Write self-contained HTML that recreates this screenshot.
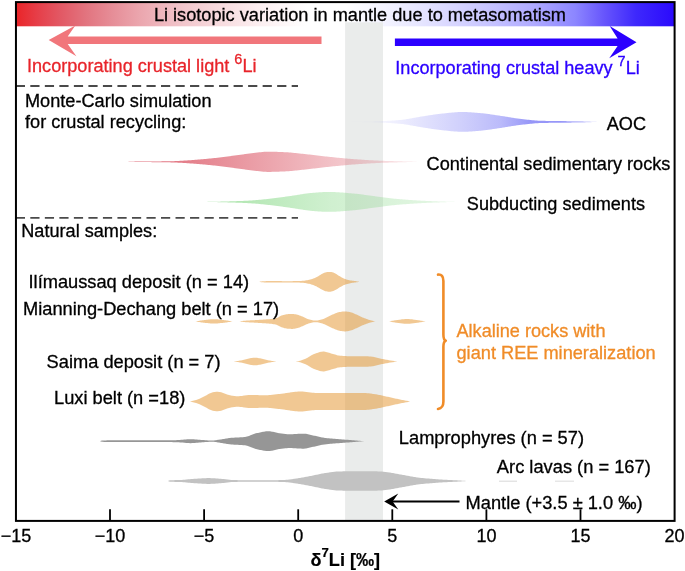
<!DOCTYPE html>
<html><head><meta charset="utf-8"><title>Li isotopic variation</title>
<style>html,body{margin:0;padding:0;background:#fff;}body{width:685px;height:571px;position:relative;overflow:hidden;font-family:"Liberation Sans",sans-serif;}</style>
</head><body>
<svg width="685" height="571" viewBox="0 0 685 571" style="position:absolute;left:0;top:0;will-change:transform;font-family:'Liberation Sans',sans-serif">
<defs>
<linearGradient id="gbar" x1="16" x2="675" y1="0" y2="0" gradientUnits="userSpaceOnUse">
<stop offset="0.0000" stop-color="#ea2428"/><stop offset="0.0319" stop-color="#e63e48"/><stop offset="0.0668" stop-color="#e25864"/><stop offset="0.1062" stop-color="#e2747f"/><stop offset="0.1472" stop-color="#e68e98"/><stop offset="0.1882" stop-color="#eba6ae"/><stop offset="0.2489" stop-color="#f1c4ca"/><stop offset="0.2944" stop-color="#f6d6da"/><stop offset="0.3672" stop-color="#fceef0"/><stop offset="0.4431" stop-color="#ffffff"/><stop offset="0.5008" stop-color="#ffffff"/><stop offset="0.5736" stop-color="#f0f0ff"/><stop offset="0.6206" stop-color="#e4e3ff"/><stop offset="0.6662" stop-color="#d7d5ff"/><stop offset="0.7284" stop-color="#c3c0ff"/><stop offset="0.7860" stop-color="#afaaff"/><stop offset="0.8483" stop-color="#8c86ff"/><stop offset="0.8938" stop-color="#6654fc"/><stop offset="0.9408" stop-color="#3e28fc"/><stop offset="0.9985" stop-color="#2b0afc"/>
</linearGradient>
<linearGradient id="gaoc" x1="370" x2="597" y1="0" y2="0" gradientUnits="userSpaceOnUse">
<stop offset="0" stop-color="#6e6ef5" stop-opacity="0.03"/><stop offset="0.396" stop-color="#6e6ef5" stop-opacity="0.32"/><stop offset="0.573" stop-color="#6e6ef5" stop-opacity="0.47"/><stop offset="0.705" stop-color="#6e6ef5" stop-opacity="0.72"/><stop offset="0.837" stop-color="#6e6ef5" stop-opacity="0.72"/><stop offset="1" stop-color="#6e6ef5" stop-opacity="0.3"/>
</linearGradient>
<linearGradient id="gred" x1="128" x2="420" y1="0" y2="0" gradientUnits="userSpaceOnUse">
<stop offset="0" stop-color="#d94c5c" stop-opacity="0.85"/><stop offset="0.3" stop-color="#d94c5c" stop-opacity="0.64"/><stop offset="1" stop-color="#d94c5c" stop-opacity="0.12"/>
</linearGradient>
<linearGradient id="ggreen" x1="206" x2="456" y1="0" y2="0" gradientUnits="userSpaceOnUse">
<stop offset="0" stop-color="#7fd67f" stop-opacity="0.66"/><stop offset="0.5" stop-color="#7fd67f" stop-opacity="0.37"/><stop offset="1" stop-color="#7fd67f" stop-opacity="0.2"/>
</linearGradient>
</defs>
<rect x="0" y="0" width="685" height="571" fill="#fff"/>
<rect x="16" y="2" width="659" height="24.3" fill="url(#gbar)"/>
<rect x="345.1" y="22.3" width="37.9" height="498.7" fill="#eaeceb"/>
<path d="M350.0,121.90 L351.0,121.88 L352.0,121.87 L353.0,121.85 L354.0,121.83 L355.0,121.81 L356.0,121.79 L357.0,121.78 L358.0,121.75 L359.0,121.73 L360.0,121.71 L361.0,121.69 L362.0,121.67 L363.0,121.65 L364.0,121.62 L365.0,121.60 L366.0,121.58 L367.0,121.55 L368.0,121.53 L369.0,121.50 L370.0,121.48 L371.0,121.45 L372.0,121.43 L373.0,121.40 L374.0,121.37 L375.0,121.35 L376.0,121.32 L377.0,121.29 L378.0,121.26 L379.0,121.22 L380.0,121.19 L381.0,121.16 L382.0,121.12 L383.0,121.08 L384.0,121.04 L385.0,121.00 L386.0,120.96 L387.0,120.91 L388.0,120.86 L389.0,120.80 L390.0,120.75 L391.0,120.69 L392.0,120.62 L393.0,120.56 L394.0,120.49 L395.0,120.41 L396.0,120.33 L397.0,120.25 L398.0,120.17 L399.0,120.08 L400.0,119.99 L401.0,119.90 L402.0,119.80 L403.0,119.68 L404.0,119.56 L405.0,119.42 L406.0,119.27 L407.0,119.11 L408.0,118.95 L409.0,118.78 L410.0,118.60 L411.0,118.42 L412.0,118.24 L413.0,118.05 L414.0,117.87 L415.0,117.68 L416.0,117.50 L417.0,117.31 L418.0,117.13 L419.0,116.96 L420.0,116.79 L421.0,116.62 L422.0,116.47 L423.0,116.32 L424.0,116.16 L425.0,116.00 L426.0,115.84 L427.0,115.68 L428.0,115.53 L429.0,115.37 L430.0,115.21 L431.0,115.06 L432.0,114.90 L433.0,114.75 L434.0,114.61 L435.0,114.46 L436.0,114.32 L437.0,114.19 L438.0,114.06 L439.0,113.93 L440.0,113.82 L441.0,113.70 L442.0,113.60 L443.0,113.50 L444.0,113.39 L445.0,113.29 L446.0,113.18 L447.0,113.07 L448.0,112.97 L449.0,112.86 L450.0,112.76 L451.0,112.66 L452.0,112.57 L453.0,112.48 L454.0,112.39 L455.0,112.31 L456.0,112.24 L457.0,112.18 L458.0,112.12 L459.0,112.08 L460.0,112.04 L461.0,112.02 L462.0,112.00 L463.0,112.00 L464.0,112.01 L465.0,112.03 L466.0,112.06 L467.0,112.10 L468.0,112.15 L469.0,112.20 L470.0,112.26 L471.0,112.33 L472.0,112.40 L473.0,112.47 L474.0,112.55 L475.0,112.64 L476.0,112.72 L477.0,112.81 L478.0,112.89 L479.0,112.98 L480.0,113.07 L481.0,113.15 L482.0,113.25 L483.0,113.35 L484.0,113.46 L485.0,113.58 L486.0,113.70 L487.0,113.83 L488.0,113.97 L489.0,114.11 L490.0,114.25 L491.0,114.40 L492.0,114.55 L493.0,114.70 L494.0,114.85 L495.0,115.01 L496.0,115.16 L497.0,115.32 L498.0,115.47 L499.0,115.62 L500.0,115.77 L501.0,115.91 L502.0,116.06 L503.0,116.21 L504.0,116.37 L505.0,116.53 L506.0,116.69 L507.0,116.85 L508.0,117.02 L509.0,117.19 L510.0,117.35 L511.0,117.52 L512.0,117.68 L513.0,117.84 L514.0,118.00 L515.0,118.15 L516.0,118.30 L517.0,118.45 L518.0,118.59 L519.0,118.72 L520.0,118.85 L521.0,118.97 L522.0,119.08 L523.0,119.19 L524.0,119.31 L525.0,119.42 L526.0,119.53 L527.0,119.65 L528.0,119.76 L529.0,119.87 L530.0,119.97 L531.0,120.08 L532.0,120.17 L533.0,120.27 L534.0,120.36 L535.0,120.44 L536.0,120.52 L537.0,120.59 L538.0,120.65 L539.0,120.70 L540.0,120.75 L541.0,120.78 L542.0,120.81 L543.0,120.83 L544.0,120.85 L545.0,120.87 L546.0,120.88 L547.0,120.90 L548.0,120.91 L549.0,120.93 L550.0,120.94 L551.0,120.95 L552.0,120.96 L553.0,120.97 L554.0,120.98 L555.0,120.99 L556.0,121.00 L557.0,121.01 L558.0,121.03 L559.0,121.04 L560.0,121.05 L561.0,121.06 L562.0,121.07 L563.0,121.09 L564.0,121.10 L565.0,121.11 L566.0,121.12 L567.0,121.13 L568.0,121.14 L569.0,121.15 L570.0,121.16 L571.0,121.17 L572.0,121.18 L573.0,121.20 L574.0,121.21 L575.0,121.22 L576.0,121.23 L577.0,121.25 L578.0,121.27 L579.0,121.28 L580.0,121.30 L581.0,121.32 L582.0,121.34 L583.0,121.37 L584.0,121.39 L585.0,121.42 L586.0,121.46 L587.0,121.49 L588.0,121.52 L589.0,121.56 L590.0,121.60 L591.0,121.64 L592.0,121.68 L593.0,121.72 L594.0,121.77 L595.0,121.81 L596.0,121.85 L597.0,121.90 L597.0,121.90 L596.0,121.95 L595.0,121.99 L594.0,122.03 L593.0,122.08 L592.0,122.12 L591.0,122.16 L590.0,122.20 L589.0,122.24 L588.0,122.28 L587.0,122.31 L586.0,122.34 L585.0,122.38 L584.0,122.41 L583.0,122.43 L582.0,122.46 L581.0,122.48 L580.0,122.50 L579.0,122.52 L578.0,122.53 L577.0,122.55 L576.0,122.57 L575.0,122.58 L574.0,122.59 L573.0,122.60 L572.0,122.62 L571.0,122.63 L570.0,122.64 L569.0,122.65 L568.0,122.66 L567.0,122.67 L566.0,122.68 L565.0,122.69 L564.0,122.70 L563.0,122.71 L562.0,122.73 L561.0,122.74 L560.0,122.75 L559.0,122.76 L558.0,122.77 L557.0,122.79 L556.0,122.80 L555.0,122.81 L554.0,122.82 L553.0,122.83 L552.0,122.84 L551.0,122.85 L550.0,122.86 L549.0,122.87 L548.0,122.89 L547.0,122.90 L546.0,122.92 L545.0,122.93 L544.0,122.95 L543.0,122.97 L542.0,122.99 L541.0,123.02 L540.0,123.05 L539.0,123.10 L538.0,123.15 L537.0,123.21 L536.0,123.28 L535.0,123.36 L534.0,123.44 L533.0,123.53 L532.0,123.63 L531.0,123.72 L530.0,123.83 L529.0,123.93 L528.0,124.04 L527.0,124.15 L526.0,124.27 L525.0,124.38 L524.0,124.49 L523.0,124.61 L522.0,124.72 L521.0,124.83 L520.0,124.95 L519.0,125.08 L518.0,125.21 L517.0,125.35 L516.0,125.50 L515.0,125.65 L514.0,125.80 L513.0,125.96 L512.0,126.12 L511.0,126.28 L510.0,126.45 L509.0,126.61 L508.0,126.78 L507.0,126.95 L506.0,127.11 L505.0,127.27 L504.0,127.43 L503.0,127.59 L502.0,127.74 L501.0,127.89 L500.0,128.03 L499.0,128.18 L498.0,128.33 L497.0,128.48 L496.0,128.64 L495.0,128.79 L494.0,128.95 L493.0,129.10 L492.0,129.25 L491.0,129.40 L490.0,129.55 L489.0,129.69 L488.0,129.83 L487.0,129.97 L486.0,130.10 L485.0,130.22 L484.0,130.34 L483.0,130.45 L482.0,130.55 L481.0,130.65 L480.0,130.73 L479.0,130.82 L478.0,130.91 L477.0,130.99 L476.0,131.08 L475.0,131.16 L474.0,131.25 L473.0,131.33 L472.0,131.40 L471.0,131.47 L470.0,131.54 L469.0,131.60 L468.0,131.65 L467.0,131.70 L466.0,131.74 L465.0,131.77 L464.0,131.79 L463.0,131.80 L462.0,131.80 L461.0,131.78 L460.0,131.76 L459.0,131.72 L458.0,131.68 L457.0,131.62 L456.0,131.56 L455.0,131.49 L454.0,131.41 L453.0,131.32 L452.0,131.23 L451.0,131.14 L450.0,131.04 L449.0,130.94 L448.0,130.83 L447.0,130.73 L446.0,130.62 L445.0,130.51 L444.0,130.41 L443.0,130.30 L442.0,130.20 L441.0,130.10 L440.0,129.98 L439.0,129.87 L438.0,129.74 L437.0,129.61 L436.0,129.48 L435.0,129.34 L434.0,129.19 L433.0,129.05 L432.0,128.90 L431.0,128.74 L430.0,128.59 L429.0,128.43 L428.0,128.27 L427.0,128.12 L426.0,127.96 L425.0,127.80 L424.0,127.64 L423.0,127.48 L422.0,127.33 L421.0,127.18 L420.0,127.01 L419.0,126.84 L418.0,126.67 L417.0,126.49 L416.0,126.30 L415.0,126.12 L414.0,125.93 L413.0,125.75 L412.0,125.56 L411.0,125.38 L410.0,125.20 L409.0,125.02 L408.0,124.85 L407.0,124.69 L406.0,124.53 L405.0,124.38 L404.0,124.24 L403.0,124.12 L402.0,124.00 L401.0,123.90 L400.0,123.81 L399.0,123.72 L398.0,123.63 L397.0,123.55 L396.0,123.47 L395.0,123.39 L394.0,123.31 L393.0,123.24 L392.0,123.18 L391.0,123.11 L390.0,123.05 L389.0,123.00 L388.0,122.94 L387.0,122.89 L386.0,122.84 L385.0,122.80 L384.0,122.76 L383.0,122.72 L382.0,122.68 L381.0,122.64 L380.0,122.61 L379.0,122.58 L378.0,122.54 L377.0,122.51 L376.0,122.48 L375.0,122.45 L374.0,122.43 L373.0,122.40 L372.0,122.37 L371.0,122.35 L370.0,122.32 L369.0,122.30 L368.0,122.27 L367.0,122.25 L366.0,122.22 L365.0,122.20 L364.0,122.18 L363.0,122.15 L362.0,122.13 L361.0,122.11 L360.0,122.09 L359.0,122.07 L358.0,122.05 L357.0,122.02 L356.0,122.01 L355.0,121.99 L354.0,121.97 L353.0,121.95 L352.0,121.93 L351.0,121.92 L350.0,121.90Z" fill="url(#gaoc)"/>
<path d="M125.0,161.80 L126.0,161.78 L127.0,161.76 L128.0,161.74 L129.0,161.72 L130.0,161.70 L131.0,161.68 L132.0,161.66 L133.0,161.64 L134.0,161.63 L135.0,161.61 L136.0,161.60 L137.0,161.58 L138.0,161.57 L139.0,161.56 L140.0,161.55 L141.0,161.54 L142.0,161.53 L143.0,161.53 L144.0,161.52 L145.0,161.51 L146.0,161.51 L147.0,161.50 L148.0,161.50 L149.0,161.49 L150.0,161.49 L151.0,161.48 L152.0,161.47 L153.0,161.47 L154.0,161.46 L155.0,161.45 L156.0,161.44 L157.0,161.43 L158.0,161.42 L159.0,161.41 L160.0,161.40 L161.0,161.39 L162.0,161.37 L163.0,161.36 L164.0,161.35 L165.0,161.33 L166.0,161.32 L167.0,161.30 L168.0,161.28 L169.0,161.26 L170.0,161.24 L171.0,161.22 L172.0,161.20 L173.0,161.17 L174.0,161.14 L175.0,161.11 L176.0,161.07 L177.0,161.02 L178.0,160.97 L179.0,160.92 L180.0,160.86 L181.0,160.80 L182.0,160.74 L183.0,160.68 L184.0,160.62 L185.0,160.55 L186.0,160.48 L187.0,160.42 L188.0,160.35 L189.0,160.29 L190.0,160.22 L191.0,160.15 L192.0,160.08 L193.0,160.01 L194.0,159.93 L195.0,159.86 L196.0,159.78 L197.0,159.70 L198.0,159.61 L199.0,159.53 L200.0,159.44 L201.0,159.36 L202.0,159.27 L203.0,159.18 L204.0,159.09 L205.0,158.99 L206.0,158.90 L207.0,158.80 L208.0,158.71 L209.0,158.61 L210.0,158.51 L211.0,158.41 L212.0,158.31 L213.0,158.21 L214.0,158.10 L215.0,158.00 L216.0,157.89 L217.0,157.78 L218.0,157.67 L219.0,157.56 L220.0,157.44 L221.0,157.32 L222.0,157.19 L223.0,157.07 L224.0,156.94 L225.0,156.81 L226.0,156.68 L227.0,156.54 L228.0,156.41 L229.0,156.27 L230.0,156.14 L231.0,156.00 L232.0,155.87 L233.0,155.73 L234.0,155.59 L235.0,155.46 L236.0,155.32 L237.0,155.18 L238.0,155.05 L239.0,154.92 L240.0,154.78 L241.0,154.65 L242.0,154.52 L243.0,154.39 L244.0,154.25 L245.0,154.11 L246.0,153.97 L247.0,153.83 L248.0,153.69 L249.0,153.56 L250.0,153.42 L251.0,153.29 L252.0,153.16 L253.0,153.04 L254.0,152.92 L255.0,152.80 L256.0,152.70 L257.0,152.60 L258.0,152.49 L259.0,152.37 L260.0,152.26 L261.0,152.15 L262.0,152.05 L263.0,151.95 L264.0,151.87 L265.0,151.80 L266.0,151.75 L267.0,151.71 L268.0,151.70 L269.0,151.70 L270.0,151.71 L271.0,151.72 L272.0,151.74 L273.0,151.76 L274.0,151.78 L275.0,151.81 L276.0,151.84 L277.0,151.87 L278.0,151.91 L279.0,151.95 L280.0,151.99 L281.0,152.03 L282.0,152.07 L283.0,152.11 L284.0,152.16 L285.0,152.20 L286.0,152.25 L287.0,152.31 L288.0,152.37 L289.0,152.45 L290.0,152.53 L291.0,152.61 L292.0,152.71 L293.0,152.80 L294.0,152.90 L295.0,153.01 L296.0,153.11 L297.0,153.22 L298.0,153.32 L299.0,153.43 L300.0,153.54 L301.0,153.65 L302.0,153.75 L303.0,153.85 L304.0,153.95 L305.0,154.06 L306.0,154.17 L307.0,154.28 L308.0,154.39 L309.0,154.51 L310.0,154.62 L311.0,154.74 L312.0,154.86 L313.0,154.98 L314.0,155.10 L315.0,155.22 L316.0,155.34 L317.0,155.46 L318.0,155.58 L319.0,155.70 L320.0,155.82 L321.0,155.94 L322.0,156.05 L323.0,156.17 L324.0,156.28 L325.0,156.39 L326.0,156.50 L327.0,156.61 L328.0,156.72 L329.0,156.82 L330.0,156.92 L331.0,157.02 L332.0,157.12 L333.0,157.23 L334.0,157.33 L335.0,157.43 L336.0,157.53 L337.0,157.63 L338.0,157.72 L339.0,157.82 L340.0,157.92 L341.0,158.01 L342.0,158.11 L343.0,158.20 L344.0,158.29 L345.0,158.38 L346.0,158.47 L347.0,158.56 L348.0,158.65 L349.0,158.73 L350.0,158.82 L351.0,158.90 L352.0,158.98 L353.0,159.05 L354.0,159.13 L355.0,159.20 L356.0,159.27 L357.0,159.34 L358.0,159.41 L359.0,159.48 L360.0,159.55 L361.0,159.62 L362.0,159.69 L363.0,159.75 L364.0,159.82 L365.0,159.88 L366.0,159.95 L367.0,160.01 L368.0,160.07 L369.0,160.13 L370.0,160.19 L371.0,160.25 L372.0,160.30 L373.0,160.36 L374.0,160.41 L375.0,160.46 L376.0,160.51 L377.0,160.56 L378.0,160.61 L379.0,160.65 L380.0,160.69 L381.0,160.73 L382.0,160.77 L383.0,160.81 L384.0,160.85 L385.0,160.88 L386.0,160.91 L387.0,160.94 L388.0,160.97 L389.0,161.00 L390.0,161.03 L391.0,161.06 L392.0,161.09 L393.0,161.11 L394.0,161.14 L395.0,161.17 L396.0,161.19 L397.0,161.22 L398.0,161.25 L399.0,161.27 L400.0,161.30 L401.0,161.33 L402.0,161.35 L403.0,161.38 L404.0,161.41 L405.0,161.43 L406.0,161.46 L407.0,161.49 L408.0,161.51 L409.0,161.54 L410.0,161.56 L411.0,161.59 L412.0,161.61 L413.0,161.64 L414.0,161.66 L415.0,161.68 L416.0,161.71 L417.0,161.73 L418.0,161.75 L419.0,161.78 L420.0,161.80 L420.0,161.80 L419.0,161.82 L418.0,161.85 L417.0,161.87 L416.0,161.89 L415.0,161.92 L414.0,161.94 L413.0,161.96 L412.0,161.99 L411.0,162.01 L410.0,162.04 L409.0,162.06 L408.0,162.09 L407.0,162.11 L406.0,162.14 L405.0,162.17 L404.0,162.19 L403.0,162.22 L402.0,162.25 L401.0,162.27 L400.0,162.30 L399.0,162.33 L398.0,162.35 L397.0,162.38 L396.0,162.41 L395.0,162.43 L394.0,162.46 L393.0,162.49 L392.0,162.51 L391.0,162.54 L390.0,162.57 L389.0,162.60 L388.0,162.63 L387.0,162.66 L386.0,162.69 L385.0,162.72 L384.0,162.75 L383.0,162.79 L382.0,162.83 L381.0,162.87 L380.0,162.91 L379.0,162.95 L378.0,162.99 L377.0,163.04 L376.0,163.09 L375.0,163.14 L374.0,163.19 L373.0,163.24 L372.0,163.30 L371.0,163.35 L370.0,163.41 L369.0,163.47 L368.0,163.53 L367.0,163.59 L366.0,163.65 L365.0,163.72 L364.0,163.78 L363.0,163.85 L362.0,163.91 L361.0,163.98 L360.0,164.05 L359.0,164.12 L358.0,164.19 L357.0,164.26 L356.0,164.33 L355.0,164.40 L354.0,164.47 L353.0,164.55 L352.0,164.62 L351.0,164.70 L350.0,164.78 L349.0,164.87 L348.0,164.95 L347.0,165.04 L346.0,165.13 L345.0,165.22 L344.0,165.31 L343.0,165.40 L342.0,165.49 L341.0,165.59 L340.0,165.68 L339.0,165.78 L338.0,165.88 L337.0,165.97 L336.0,166.07 L335.0,166.17 L334.0,166.27 L333.0,166.37 L332.0,166.48 L331.0,166.58 L330.0,166.68 L329.0,166.78 L328.0,166.88 L327.0,166.99 L326.0,167.10 L325.0,167.21 L324.0,167.32 L323.0,167.43 L322.0,167.55 L321.0,167.66 L320.0,167.78 L319.0,167.90 L318.0,168.02 L317.0,168.14 L316.0,168.26 L315.0,168.38 L314.0,168.50 L313.0,168.62 L312.0,168.74 L311.0,168.86 L310.0,168.98 L309.0,169.09 L308.0,169.21 L307.0,169.32 L306.0,169.43 L305.0,169.54 L304.0,169.65 L303.0,169.75 L302.0,169.85 L301.0,169.95 L300.0,170.06 L299.0,170.17 L298.0,170.28 L297.0,170.38 L296.0,170.49 L295.0,170.59 L294.0,170.70 L293.0,170.80 L292.0,170.89 L291.0,170.99 L290.0,171.07 L289.0,171.15 L288.0,171.23 L287.0,171.29 L286.0,171.35 L285.0,171.40 L284.0,171.44 L283.0,171.49 L282.0,171.53 L281.0,171.57 L280.0,171.61 L279.0,171.65 L278.0,171.69 L277.0,171.73 L276.0,171.76 L275.0,171.79 L274.0,171.82 L273.0,171.84 L272.0,171.86 L271.0,171.88 L270.0,171.89 L269.0,171.90 L268.0,171.90 L267.0,171.89 L266.0,171.85 L265.0,171.80 L264.0,171.73 L263.0,171.65 L262.0,171.55 L261.0,171.45 L260.0,171.34 L259.0,171.23 L258.0,171.11 L257.0,171.00 L256.0,170.90 L255.0,170.80 L254.0,170.68 L253.0,170.56 L252.0,170.44 L251.0,170.31 L250.0,170.18 L249.0,170.04 L248.0,169.91 L247.0,169.77 L246.0,169.63 L245.0,169.49 L244.0,169.35 L243.0,169.21 L242.0,169.08 L241.0,168.95 L240.0,168.82 L239.0,168.68 L238.0,168.55 L237.0,168.42 L236.0,168.28 L235.0,168.14 L234.0,168.01 L233.0,167.87 L232.0,167.73 L231.0,167.60 L230.0,167.46 L229.0,167.33 L228.0,167.19 L227.0,167.06 L226.0,166.92 L225.0,166.79 L224.0,166.66 L223.0,166.53 L222.0,166.41 L221.0,166.28 L220.0,166.16 L219.0,166.04 L218.0,165.93 L217.0,165.82 L216.0,165.71 L215.0,165.60 L214.0,165.50 L213.0,165.39 L212.0,165.29 L211.0,165.19 L210.0,165.09 L209.0,164.99 L208.0,164.89 L207.0,164.80 L206.0,164.70 L205.0,164.61 L204.0,164.51 L203.0,164.42 L202.0,164.33 L201.0,164.24 L200.0,164.16 L199.0,164.07 L198.0,163.99 L197.0,163.90 L196.0,163.82 L195.0,163.74 L194.0,163.67 L193.0,163.59 L192.0,163.52 L191.0,163.45 L190.0,163.38 L189.0,163.31 L188.0,163.25 L187.0,163.18 L186.0,163.12 L185.0,163.05 L184.0,162.98 L183.0,162.92 L182.0,162.86 L181.0,162.80 L180.0,162.74 L179.0,162.68 L178.0,162.63 L177.0,162.58 L176.0,162.53 L175.0,162.49 L174.0,162.46 L173.0,162.43 L172.0,162.40 L171.0,162.38 L170.0,162.36 L169.0,162.34 L168.0,162.32 L167.0,162.30 L166.0,162.28 L165.0,162.27 L164.0,162.25 L163.0,162.24 L162.0,162.23 L161.0,162.21 L160.0,162.20 L159.0,162.19 L158.0,162.18 L157.0,162.17 L156.0,162.16 L155.0,162.15 L154.0,162.14 L153.0,162.13 L152.0,162.13 L151.0,162.12 L150.0,162.11 L149.0,162.11 L148.0,162.10 L147.0,162.10 L146.0,162.09 L145.0,162.09 L144.0,162.08 L143.0,162.07 L142.0,162.07 L141.0,162.06 L140.0,162.05 L139.0,162.04 L138.0,162.03 L137.0,162.02 L136.0,162.00 L135.0,161.99 L134.0,161.97 L133.0,161.96 L132.0,161.94 L131.0,161.92 L130.0,161.90 L129.0,161.88 L128.0,161.86 L127.0,161.84 L126.0,161.82 L125.0,161.80Z" fill="url(#gred)"/>
<path d="M206.0,201.90 L207.0,201.89 L208.0,201.87 L209.0,201.86 L210.0,201.84 L211.0,201.82 L212.0,201.80 L213.0,201.78 L214.0,201.76 L215.0,201.74 L216.0,201.72 L217.0,201.70 L218.0,201.67 L219.0,201.65 L220.0,201.63 L221.0,201.60 L222.0,201.57 L223.0,201.55 L224.0,201.52 L225.0,201.49 L226.0,201.47 L227.0,201.44 L228.0,201.41 L229.0,201.38 L230.0,201.35 L231.0,201.32 L232.0,201.29 L233.0,201.26 L234.0,201.23 L235.0,201.19 L236.0,201.16 L237.0,201.12 L238.0,201.09 L239.0,201.05 L240.0,201.01 L241.0,200.97 L242.0,200.93 L243.0,200.89 L244.0,200.84 L245.0,200.80 L246.0,200.75 L247.0,200.70 L248.0,200.65 L249.0,200.60 L250.0,200.54 L251.0,200.48 L252.0,200.42 L253.0,200.35 L254.0,200.27 L255.0,200.20 L256.0,200.11 L257.0,200.03 L258.0,199.94 L259.0,199.85 L260.0,199.75 L261.0,199.65 L262.0,199.55 L263.0,199.45 L264.0,199.35 L265.0,199.24 L266.0,199.13 L267.0,199.02 L268.0,198.91 L269.0,198.80 L270.0,198.69 L271.0,198.58 L272.0,198.47 L273.0,198.35 L274.0,198.24 L275.0,198.11 L276.0,197.99 L277.0,197.86 L278.0,197.73 L279.0,197.59 L280.0,197.46 L281.0,197.32 L282.0,197.18 L283.0,197.04 L284.0,196.90 L285.0,196.75 L286.0,196.61 L287.0,196.47 L288.0,196.32 L289.0,196.18 L290.0,196.04 L291.0,195.90 L292.0,195.76 L293.0,195.62 L294.0,195.47 L295.0,195.32 L296.0,195.16 L297.0,195.00 L298.0,194.84 L299.0,194.67 L300.0,194.51 L301.0,194.34 L302.0,194.18 L303.0,194.02 L304.0,193.87 L305.0,193.72 L306.0,193.57 L307.0,193.43 L308.0,193.30 L309.0,193.18 L310.0,193.07 L311.0,192.97 L312.0,192.88 L313.0,192.80 L314.0,192.72 L315.0,192.65 L316.0,192.57 L317.0,192.50 L318.0,192.42 L319.0,192.36 L320.0,192.29 L321.0,192.23 L322.0,192.17 L323.0,192.12 L324.0,192.07 L325.0,192.03 L326.0,192.00 L327.0,191.98 L328.0,191.96 L329.0,191.96 L330.0,191.96 L331.0,191.98 L332.0,192.00 L333.0,192.02 L334.0,192.06 L335.0,192.10 L336.0,192.15 L337.0,192.20 L338.0,192.26 L339.0,192.32 L340.0,192.39 L341.0,192.46 L342.0,192.53 L343.0,192.61 L344.0,192.69 L345.0,192.78 L346.0,192.86 L347.0,192.95 L348.0,193.04 L349.0,193.13 L350.0,193.21 L351.0,193.30 L352.0,193.39 L353.0,193.48 L354.0,193.56 L355.0,193.66 L356.0,193.76 L357.0,193.86 L358.0,193.98 L359.0,194.09 L360.0,194.22 L361.0,194.34 L362.0,194.47 L363.0,194.61 L364.0,194.74 L365.0,194.88 L366.0,195.02 L367.0,195.16 L368.0,195.30 L369.0,195.44 L370.0,195.58 L371.0,195.72 L372.0,195.86 L373.0,195.99 L374.0,196.12 L375.0,196.25 L376.0,196.38 L377.0,196.51 L378.0,196.64 L379.0,196.77 L380.0,196.90 L381.0,197.04 L382.0,197.17 L383.0,197.31 L384.0,197.44 L385.0,197.57 L386.0,197.70 L387.0,197.83 L388.0,197.96 L389.0,198.08 L390.0,198.20 L391.0,198.32 L392.0,198.43 L393.0,198.54 L394.0,198.64 L395.0,198.74 L396.0,198.83 L397.0,198.93 L398.0,199.02 L399.0,199.11 L400.0,199.19 L401.0,199.28 L402.0,199.36 L403.0,199.44 L404.0,199.52 L405.0,199.59 L406.0,199.67 L407.0,199.74 L408.0,199.81 L409.0,199.88 L410.0,199.95 L411.0,200.02 L412.0,200.08 L413.0,200.15 L414.0,200.21 L415.0,200.28 L416.0,200.34 L417.0,200.40 L418.0,200.46 L419.0,200.52 L420.0,200.58 L421.0,200.63 L422.0,200.69 L423.0,200.74 L424.0,200.79 L425.0,200.84 L426.0,200.89 L427.0,200.93 L428.0,200.97 L429.0,201.02 L430.0,201.06 L431.0,201.10 L432.0,201.14 L433.0,201.18 L434.0,201.22 L435.0,201.26 L436.0,201.30 L437.0,201.34 L438.0,201.38 L439.0,201.42 L440.0,201.45 L441.0,201.49 L442.0,201.52 L443.0,201.56 L444.0,201.59 L445.0,201.62 L446.0,201.65 L447.0,201.68 L448.0,201.71 L449.0,201.74 L450.0,201.77 L451.0,201.79 L452.0,201.82 L453.0,201.84 L454.0,201.86 L455.0,201.88 L456.0,201.90 L456.0,201.90 L455.0,201.92 L454.0,201.94 L453.0,201.96 L452.0,201.98 L451.0,202.01 L450.0,202.03 L449.0,202.06 L448.0,202.09 L447.0,202.12 L446.0,202.15 L445.0,202.18 L444.0,202.21 L443.0,202.24 L442.0,202.28 L441.0,202.31 L440.0,202.35 L439.0,202.38 L438.0,202.42 L437.0,202.46 L436.0,202.50 L435.0,202.54 L434.0,202.58 L433.0,202.62 L432.0,202.66 L431.0,202.70 L430.0,202.74 L429.0,202.78 L428.0,202.83 L427.0,202.87 L426.0,202.91 L425.0,202.96 L424.0,203.01 L423.0,203.06 L422.0,203.11 L421.0,203.17 L420.0,203.22 L419.0,203.28 L418.0,203.34 L417.0,203.40 L416.0,203.46 L415.0,203.52 L414.0,203.59 L413.0,203.65 L412.0,203.72 L411.0,203.78 L410.0,203.85 L409.0,203.92 L408.0,203.99 L407.0,204.06 L406.0,204.13 L405.0,204.21 L404.0,204.28 L403.0,204.36 L402.0,204.44 L401.0,204.52 L400.0,204.61 L399.0,204.69 L398.0,204.78 L397.0,204.87 L396.0,204.97 L395.0,205.06 L394.0,205.16 L393.0,205.26 L392.0,205.37 L391.0,205.48 L390.0,205.60 L389.0,205.72 L388.0,205.84 L387.0,205.97 L386.0,206.10 L385.0,206.23 L384.0,206.36 L383.0,206.49 L382.0,206.63 L381.0,206.76 L380.0,206.90 L379.0,207.03 L378.0,207.16 L377.0,207.29 L376.0,207.42 L375.0,207.55 L374.0,207.68 L373.0,207.81 L372.0,207.94 L371.0,208.08 L370.0,208.22 L369.0,208.36 L368.0,208.50 L367.0,208.64 L366.0,208.78 L365.0,208.92 L364.0,209.06 L363.0,209.19 L362.0,209.33 L361.0,209.46 L360.0,209.58 L359.0,209.71 L358.0,209.82 L357.0,209.94 L356.0,210.04 L355.0,210.14 L354.0,210.24 L353.0,210.32 L352.0,210.41 L351.0,210.50 L350.0,210.59 L349.0,210.67 L348.0,210.76 L347.0,210.85 L346.0,210.94 L345.0,211.02 L344.0,211.11 L343.0,211.19 L342.0,211.27 L341.0,211.34 L340.0,211.41 L339.0,211.48 L338.0,211.54 L337.0,211.60 L336.0,211.65 L335.0,211.70 L334.0,211.74 L333.0,211.78 L332.0,211.80 L331.0,211.82 L330.0,211.84 L329.0,211.84 L328.0,211.84 L327.0,211.82 L326.0,211.80 L325.0,211.77 L324.0,211.73 L323.0,211.68 L322.0,211.63 L321.0,211.57 L320.0,211.51 L319.0,211.44 L318.0,211.38 L317.0,211.30 L316.0,211.23 L315.0,211.15 L314.0,211.08 L313.0,211.00 L312.0,210.92 L311.0,210.83 L310.0,210.73 L309.0,210.62 L308.0,210.50 L307.0,210.37 L306.0,210.23 L305.0,210.08 L304.0,209.93 L303.0,209.78 L302.0,209.62 L301.0,209.46 L300.0,209.29 L299.0,209.13 L298.0,208.96 L297.0,208.80 L296.0,208.64 L295.0,208.48 L294.0,208.33 L293.0,208.18 L292.0,208.04 L291.0,207.90 L290.0,207.76 L289.0,207.62 L288.0,207.48 L287.0,207.33 L286.0,207.19 L285.0,207.05 L284.0,206.90 L283.0,206.76 L282.0,206.62 L281.0,206.48 L280.0,206.34 L279.0,206.21 L278.0,206.07 L277.0,205.94 L276.0,205.81 L275.0,205.69 L274.0,205.56 L273.0,205.45 L272.0,205.33 L271.0,205.22 L270.0,205.11 L269.0,205.00 L268.0,204.89 L267.0,204.78 L266.0,204.67 L265.0,204.56 L264.0,204.45 L263.0,204.35 L262.0,204.25 L261.0,204.15 L260.0,204.05 L259.0,203.95 L258.0,203.86 L257.0,203.77 L256.0,203.69 L255.0,203.60 L254.0,203.53 L253.0,203.45 L252.0,203.38 L251.0,203.32 L250.0,203.26 L249.0,203.20 L248.0,203.15 L247.0,203.10 L246.0,203.05 L245.0,203.00 L244.0,202.96 L243.0,202.91 L242.0,202.87 L241.0,202.83 L240.0,202.79 L239.0,202.75 L238.0,202.71 L237.0,202.68 L236.0,202.64 L235.0,202.61 L234.0,202.57 L233.0,202.54 L232.0,202.51 L231.0,202.48 L230.0,202.45 L229.0,202.42 L228.0,202.39 L227.0,202.36 L226.0,202.33 L225.0,202.31 L224.0,202.28 L223.0,202.25 L222.0,202.23 L221.0,202.20 L220.0,202.17 L219.0,202.15 L218.0,202.13 L217.0,202.10 L216.0,202.08 L215.0,202.06 L214.0,202.04 L213.0,202.02 L212.0,202.00 L211.0,201.98 L210.0,201.96 L209.0,201.94 L208.0,201.93 L207.0,201.91 L206.0,201.90Z" fill="url(#ggreen)"/>
<path d="M259.3,281.80 L260.3,281.61 L261.3,281.44 L262.3,281.31 L263.3,281.23 L264.3,281.19 L265.3,281.14 L266.3,281.11 L267.3,281.07 L268.3,281.05 L269.3,281.02 L270.3,281.01 L271.3,281.00 L272.3,281.00 L273.3,281.00 L274.3,281.01 L275.3,281.02 L276.3,281.04 L277.3,281.05 L278.3,281.07 L279.3,281.09 L280.3,281.11 L281.3,281.12 L282.3,281.13 L283.3,281.14 L284.3,281.15 L285.3,281.15 L286.3,281.15 L287.3,281.15 L288.3,281.15 L289.3,281.14 L290.3,281.14 L291.3,281.13 L292.3,281.13 L293.3,281.12 L294.3,281.11 L295.3,281.11 L296.3,281.10 L297.3,281.08 L298.3,281.05 L299.3,281.01 L300.3,280.96 L301.3,280.91 L302.3,280.85 L303.3,280.78 L304.3,280.68 L305.3,280.54 L306.3,280.37 L307.3,280.18 L308.3,279.96 L309.3,279.73 L310.3,279.48 L311.3,279.22 L312.3,278.91 L313.3,278.55 L314.3,278.15 L315.3,277.72 L316.3,277.26 L317.3,276.72 L318.3,276.13 L319.3,275.54 L320.3,274.93 L321.3,274.30 L322.3,273.75 L323.3,273.27 L324.3,272.82 L325.3,272.47 L326.3,272.25 L327.3,272.05 L328.3,271.92 L329.3,271.91 L330.3,271.97 L331.3,272.10 L332.3,272.26 L333.3,272.57 L334.3,273.01 L335.3,273.50 L336.3,274.06 L337.3,274.72 L338.3,275.38 L339.3,275.99 L340.3,276.60 L341.3,277.18 L342.3,277.72 L343.3,278.24 L344.3,278.72 L345.3,279.11 L346.3,279.44 L347.3,279.72 L348.3,279.97 L349.3,280.20 L350.3,280.41 L351.3,280.58 L352.3,280.73 L353.3,280.86 L354.3,280.98 L355.3,281.10 L356.3,281.24 L357.3,281.40 L358.3,281.57 L359.3,281.75 L359.6,281.80 L359.6,281.80 L359.3,281.85 L358.3,282.03 L357.3,282.20 L356.3,282.36 L355.3,282.50 L354.3,282.62 L353.3,282.74 L352.3,282.87 L351.3,283.02 L350.3,283.19 L349.3,283.40 L348.3,283.63 L347.3,283.88 L346.3,284.16 L345.3,284.49 L344.3,284.88 L343.3,285.36 L342.3,285.88 L341.3,286.42 L340.3,287.00 L339.3,287.61 L338.3,288.22 L337.3,288.88 L336.3,289.54 L335.3,290.10 L334.3,290.59 L333.3,291.03 L332.3,291.34 L331.3,291.50 L330.3,291.63 L329.3,291.69 L328.3,291.68 L327.3,291.55 L326.3,291.35 L325.3,291.13 L324.3,290.78 L323.3,290.33 L322.3,289.85 L321.3,289.30 L320.3,288.67 L319.3,288.06 L318.3,287.47 L317.3,286.88 L316.3,286.34 L315.3,285.88 L314.3,285.45 L313.3,285.05 L312.3,284.69 L311.3,284.38 L310.3,284.12 L309.3,283.87 L308.3,283.64 L307.3,283.42 L306.3,283.23 L305.3,283.06 L304.3,282.92 L303.3,282.82 L302.3,282.75 L301.3,282.69 L300.3,282.64 L299.3,282.59 L298.3,282.55 L297.3,282.52 L296.3,282.50 L295.3,282.49 L294.3,282.49 L293.3,282.48 L292.3,282.47 L291.3,282.47 L290.3,282.46 L289.3,282.46 L288.3,282.45 L287.3,282.45 L286.3,282.45 L285.3,282.45 L284.3,282.45 L283.3,282.46 L282.3,282.47 L281.3,282.48 L280.3,282.49 L279.3,282.51 L278.3,282.53 L277.3,282.55 L276.3,282.56 L275.3,282.58 L274.3,282.59 L273.3,282.60 L272.3,282.60 L271.3,282.60 L270.3,282.59 L269.3,282.58 L268.3,282.55 L267.3,282.53 L266.3,282.49 L265.3,282.46 L264.3,282.41 L263.3,282.37 L262.3,282.29 L261.3,282.16 L260.3,281.99 L259.3,281.80Z" fill="rgba(228,146,40,0.5)"/>
<path d="M195.5,321.40 L196.5,321.22 L197.5,321.05 L198.5,320.88 L199.5,320.72 L200.5,320.56 L201.5,320.42 L202.5,320.28 L203.5,320.16 L204.5,320.04 L205.5,319.92 L206.5,319.80 L207.5,319.68 L208.5,319.56 L209.5,319.46 L210.5,319.36 L211.5,319.29 L212.5,319.23 L213.5,319.20 L214.5,319.20 L215.5,319.23 L216.5,319.29 L217.5,319.36 L218.5,319.46 L219.5,319.56 L220.5,319.68 L221.5,319.80 L222.5,319.92 L223.5,320.04 L224.5,320.16 L225.5,320.28 L226.5,320.42 L227.5,320.56 L228.5,320.72 L229.5,320.88 L230.5,321.05 L231.5,321.22 L232.5,321.40 L232.5,321.40 L231.5,321.58 L230.5,321.75 L229.5,321.92 L228.5,322.08 L227.5,322.24 L226.5,322.38 L225.5,322.52 L224.5,322.64 L223.5,322.76 L222.5,322.88 L221.5,323.00 L220.5,323.12 L219.5,323.24 L218.5,323.34 L217.5,323.44 L216.5,323.51 L215.5,323.57 L214.5,323.60 L213.5,323.60 L212.5,323.57 L211.5,323.51 L210.5,323.44 L209.5,323.34 L208.5,323.24 L207.5,323.12 L206.5,323.00 L205.5,322.88 L204.5,322.76 L203.5,322.64 L202.5,322.52 L201.5,322.38 L200.5,322.24 L199.5,322.08 L198.5,321.92 L197.5,321.75 L196.5,321.58 L195.5,321.40Z" fill="rgba(228,146,40,0.5)"/>
<path d="M239.5,321.40 L240.5,321.25 L241.5,321.11 L242.5,320.97 L243.5,320.85 L244.5,320.74 L245.5,320.64 L246.5,320.56 L247.5,320.49 L248.5,320.43 L249.5,320.38 L250.5,320.33 L251.5,320.28 L252.5,320.23 L253.5,320.18 L254.5,320.13 L255.5,320.07 L256.5,320.01 L257.5,319.95 L258.5,319.89 L259.5,319.83 L260.5,319.77 L261.5,319.70 L262.5,319.63 L263.5,319.57 L264.5,319.50 L265.5,319.43 L266.5,319.37 L267.5,319.30 L268.5,319.22 L269.5,319.14 L270.5,319.04 L271.5,318.94 L272.5,318.81 L273.5,318.64 L274.5,318.44 L275.5,318.21 L276.5,317.94 L277.5,317.63 L278.5,317.17 L279.5,316.62 L280.5,316.06 L281.5,315.58 L282.5,315.24 L283.5,314.94 L284.5,314.66 L285.5,314.43 L286.5,314.26 L287.5,314.15 L288.5,314.06 L289.5,313.99 L290.5,313.93 L291.5,313.90 L292.5,313.91 L293.5,313.99 L294.5,314.13 L295.5,314.31 L296.5,314.50 L297.5,314.71 L298.5,315.01 L299.5,315.38 L300.5,315.79 L301.5,316.20 L302.5,316.60 L303.5,317.05 L304.5,317.53 L305.5,318.01 L306.5,318.48 L307.5,318.90 L308.5,319.26 L309.5,319.53 L310.5,319.79 L311.5,320.05 L312.5,320.27 L313.5,320.45 L314.5,320.56 L315.5,320.60 L316.5,320.55 L317.5,320.43 L318.5,320.25 L319.5,320.03 L320.5,319.79 L321.5,319.53 L322.5,319.26 L323.5,318.90 L324.5,318.48 L325.5,318.01 L326.5,317.52 L327.5,317.03 L328.5,316.57 L329.5,316.08 L330.5,315.58 L331.5,315.08 L332.5,314.62 L333.5,314.19 L334.5,313.76 L335.5,313.34 L336.5,312.94 L337.5,312.59 L338.5,312.31 L339.5,312.10 L340.5,311.91 L341.5,311.73 L342.5,311.58 L343.5,311.47 L344.5,311.41 L345.5,311.41 L346.5,311.49 L347.5,311.63 L348.5,311.82 L349.5,312.04 L350.5,312.28 L351.5,312.53 L352.5,312.87 L353.5,313.28 L354.5,313.72 L355.5,314.18 L356.5,314.62 L357.5,315.10 L358.5,315.60 L359.5,316.10 L360.5,316.58 L361.5,317.01 L362.5,317.43 L363.5,317.82 L364.5,318.21 L365.5,318.59 L366.5,318.98 L367.5,319.37 L368.5,319.73 L369.5,320.06 L370.5,320.33 L371.5,320.59 L372.5,320.83 L373.5,321.05 L374.5,321.24 L375.5,321.40 L375.5,321.40 L374.5,321.56 L373.5,321.75 L372.5,321.97 L371.5,322.21 L370.5,322.47 L369.5,322.74 L368.5,323.07 L367.5,323.43 L366.5,323.82 L365.5,324.21 L364.5,324.59 L363.5,324.98 L362.5,325.37 L361.5,325.79 L360.5,326.22 L359.5,326.70 L358.5,327.20 L357.5,327.70 L356.5,328.18 L355.5,328.62 L354.5,329.08 L353.5,329.52 L352.5,329.93 L351.5,330.27 L350.5,330.52 L349.5,330.76 L348.5,330.98 L347.5,331.17 L346.5,331.31 L345.5,331.39 L344.5,331.39 L343.5,331.33 L342.5,331.22 L341.5,331.07 L340.5,330.89 L339.5,330.70 L338.5,330.49 L337.5,330.21 L336.5,329.86 L335.5,329.46 L334.5,329.04 L333.5,328.61 L332.5,328.18 L331.5,327.72 L330.5,327.22 L329.5,326.72 L328.5,326.23 L327.5,325.77 L326.5,325.28 L325.5,324.79 L324.5,324.32 L323.5,323.90 L322.5,323.54 L321.5,323.27 L320.5,323.01 L319.5,322.77 L318.5,322.55 L317.5,322.37 L316.5,322.25 L315.5,322.20 L314.5,322.24 L313.5,322.35 L312.5,322.53 L311.5,322.75 L310.5,323.01 L309.5,323.27 L308.5,323.54 L307.5,323.90 L306.5,324.32 L305.5,324.79 L304.5,325.27 L303.5,325.75 L302.5,326.20 L301.5,326.60 L300.5,327.01 L299.5,327.42 L298.5,327.79 L297.5,328.09 L296.5,328.30 L295.5,328.49 L294.5,328.67 L293.5,328.81 L292.5,328.89 L291.5,328.90 L290.5,328.87 L289.5,328.81 L288.5,328.74 L287.5,328.65 L286.5,328.54 L285.5,328.37 L284.5,328.14 L283.5,327.86 L282.5,327.56 L281.5,327.22 L280.5,326.74 L279.5,326.18 L278.5,325.63 L277.5,325.17 L276.5,324.86 L275.5,324.59 L274.5,324.36 L273.5,324.16 L272.5,323.99 L271.5,323.86 L270.5,323.76 L269.5,323.66 L268.5,323.58 L267.5,323.50 L266.5,323.43 L265.5,323.37 L264.5,323.30 L263.5,323.23 L262.5,323.17 L261.5,323.10 L260.5,323.03 L259.5,322.97 L258.5,322.91 L257.5,322.85 L256.5,322.79 L255.5,322.73 L254.5,322.67 L253.5,322.62 L252.5,322.57 L251.5,322.52 L250.5,322.47 L249.5,322.42 L248.5,322.37 L247.5,322.31 L246.5,322.24 L245.5,322.16 L244.5,322.06 L243.5,321.95 L242.5,321.83 L241.5,321.69 L240.5,321.55 L239.5,321.40Z" fill="rgba(228,146,40,0.5)"/>
<path d="M389.0,321.40 L390.0,321.20 L391.0,321.01 L392.0,320.83 L393.0,320.65 L394.0,320.48 L395.0,320.32 L396.0,320.17 L397.0,320.03 L398.0,319.90 L399.0,319.77 L400.0,319.64 L401.0,319.50 L402.0,319.37 L403.0,319.25 L404.0,319.15 L405.0,319.07 L406.0,319.02 L407.0,319.00 L408.0,319.02 L409.0,319.07 L410.0,319.15 L411.0,319.25 L412.0,319.37 L413.0,319.50 L414.0,319.64 L415.0,319.77 L416.0,319.90 L417.0,320.03 L418.0,320.17 L419.0,320.31 L420.0,320.47 L421.0,320.63 L422.0,320.80 L423.0,320.97 L424.0,321.15 L425.0,321.34 L425.3,321.40 L425.3,321.40 L425.0,321.46 L424.0,321.65 L423.0,321.83 L422.0,322.00 L421.0,322.17 L420.0,322.33 L419.0,322.49 L418.0,322.63 L417.0,322.77 L416.0,322.90 L415.0,323.03 L414.0,323.16 L413.0,323.30 L412.0,323.43 L411.0,323.55 L410.0,323.65 L409.0,323.73 L408.0,323.78 L407.0,323.80 L406.0,323.78 L405.0,323.73 L404.0,323.65 L403.0,323.55 L402.0,323.43 L401.0,323.30 L400.0,323.16 L399.0,323.03 L398.0,322.90 L397.0,322.77 L396.0,322.63 L395.0,322.48 L394.0,322.32 L393.0,322.15 L392.0,321.97 L391.0,321.79 L390.0,321.60 L389.0,321.40Z" fill="rgba(228,146,40,0.5)"/>
<path d="M233.0,361.50 L234.0,361.41 L235.0,361.31 L236.0,361.19 L237.0,361.06 L238.0,360.92 L239.0,360.76 L240.0,360.60 L241.0,360.41 L242.0,360.19 L243.0,359.93 L244.0,359.67 L245.0,359.40 L246.0,359.14 L247.0,358.90 L248.0,358.70 L249.0,358.51 L250.0,358.30 L251.0,358.10 L252.0,357.93 L253.0,357.79 L254.0,357.71 L255.0,357.70 L256.0,357.76 L257.0,357.86 L258.0,357.99 L259.0,358.16 L260.0,358.34 L261.0,358.52 L262.0,358.70 L263.0,358.89 L264.0,359.13 L265.0,359.39 L266.0,359.66 L267.0,359.93 L268.0,360.18 L269.0,360.41 L270.0,360.60 L271.0,360.76 L272.0,360.92 L273.0,361.06 L274.0,361.19 L275.0,361.31 L276.0,361.41 L277.0,361.50 L277.0,361.50 L276.0,361.59 L275.0,361.69 L274.0,361.81 L273.0,361.94 L272.0,362.08 L271.0,362.24 L270.0,362.40 L269.0,362.59 L268.0,362.82 L267.0,363.07 L266.0,363.34 L265.0,363.61 L264.0,363.87 L263.0,364.11 L262.0,364.30 L261.0,364.48 L260.0,364.66 L259.0,364.84 L258.0,365.01 L257.0,365.14 L256.0,365.24 L255.0,365.30 L254.0,365.29 L253.0,365.21 L252.0,365.07 L251.0,364.90 L250.0,364.70 L249.0,364.49 L248.0,364.30 L247.0,364.10 L246.0,363.86 L245.0,363.60 L244.0,363.33 L243.0,363.07 L242.0,362.81 L241.0,362.59 L240.0,362.40 L239.0,362.24 L238.0,362.08 L237.0,361.94 L236.0,361.81 L235.0,361.69 L234.0,361.59 L233.0,361.50Z" fill="rgba(228,146,40,0.5)"/>
<path d="M296.0,361.50 L297.0,361.35 L298.0,361.16 L299.0,360.94 L300.0,360.70 L301.0,360.42 L302.0,360.10 L303.0,359.74 L304.0,359.35 L305.0,358.93 L306.0,358.50 L307.0,358.01 L308.0,357.43 L309.0,356.81 L310.0,356.16 L311.0,355.52 L312.0,354.93 L313.0,354.41 L314.0,354.00 L315.0,353.65 L316.0,353.30 L317.0,352.96 L318.0,352.63 L319.0,352.34 L320.0,352.08 L321.0,351.87 L322.0,351.71 L323.0,351.62 L324.0,351.61 L325.0,351.70 L326.0,351.88 L327.0,352.13 L328.0,352.44 L329.0,352.77 L330.0,353.10 L331.0,353.42 L332.0,353.70 L333.0,353.97 L334.0,354.26 L335.0,354.57 L336.0,354.87 L337.0,355.14 L338.0,355.39 L339.0,355.58 L340.0,355.70 L341.0,355.78 L342.0,355.86 L343.0,355.93 L344.0,356.00 L345.0,356.06 L346.0,356.11 L347.0,356.15 L348.0,356.18 L349.0,356.19 L350.0,356.20 L351.0,356.20 L352.0,356.20 L353.0,356.20 L354.0,356.20 L355.0,356.20 L356.0,356.20 L357.0,356.20 L358.0,356.20 L359.0,356.20 L360.0,356.20 L361.0,356.20 L362.0,356.20 L363.0,356.20 L364.0,356.20 L365.0,356.20 L366.0,356.21 L367.0,356.26 L368.0,356.32 L369.0,356.40 L370.0,356.49 L371.0,356.60 L372.0,356.70 L373.0,356.83 L374.0,357.00 L375.0,357.20 L376.0,357.43 L377.0,357.68 L378.0,357.94 L379.0,358.19 L380.0,358.45 L381.0,358.68 L382.0,358.90 L383.0,359.10 L384.0,359.30 L385.0,359.50 L386.0,359.69 L387.0,359.87 L388.0,360.06 L389.0,360.23 L390.0,360.40 L391.0,360.56 L392.0,360.72 L393.0,360.87 L394.0,361.02 L395.0,361.17 L396.0,361.30 L397.0,361.44 L397.5,361.50 L397.5,361.50 L397.0,361.56 L396.0,361.70 L395.0,361.83 L394.0,361.98 L393.0,362.13 L392.0,362.28 L391.0,362.44 L390.0,362.60 L389.0,362.77 L388.0,362.94 L387.0,363.13 L386.0,363.31 L385.0,363.50 L384.0,363.70 L383.0,363.90 L382.0,364.10 L381.0,364.32 L380.0,364.55 L379.0,364.81 L378.0,365.06 L377.0,365.32 L376.0,365.57 L375.0,365.80 L374.0,366.00 L373.0,366.17 L372.0,366.30 L371.0,366.40 L370.0,366.51 L369.0,366.60 L368.0,366.68 L367.0,366.74 L366.0,366.79 L365.0,366.80 L364.0,366.80 L363.0,366.80 L362.0,366.80 L361.0,366.80 L360.0,366.80 L359.0,366.80 L358.0,366.80 L357.0,366.80 L356.0,366.80 L355.0,366.80 L354.0,366.80 L353.0,366.80 L352.0,366.80 L351.0,366.80 L350.0,366.80 L349.0,366.81 L348.0,366.82 L347.0,366.85 L346.0,366.89 L345.0,366.94 L344.0,367.00 L343.0,367.07 L342.0,367.14 L341.0,367.22 L340.0,367.30 L339.0,367.42 L338.0,367.61 L337.0,367.86 L336.0,368.13 L335.0,368.43 L334.0,368.74 L333.0,369.03 L332.0,369.30 L331.0,369.58 L330.0,369.90 L329.0,370.23 L328.0,370.56 L327.0,370.87 L326.0,371.12 L325.0,371.30 L324.0,371.39 L323.0,371.38 L322.0,371.29 L321.0,371.13 L320.0,370.92 L319.0,370.66 L318.0,370.37 L317.0,370.04 L316.0,369.70 L315.0,369.35 L314.0,369.00 L313.0,368.59 L312.0,368.07 L311.0,367.48 L310.0,366.84 L309.0,366.19 L308.0,365.57 L307.0,364.99 L306.0,364.50 L305.0,364.07 L304.0,363.65 L303.0,363.26 L302.0,362.90 L301.0,362.58 L300.0,362.30 L299.0,362.06 L298.0,361.84 L297.0,361.65 L296.0,361.50Z" fill="rgba(228,146,40,0.5)"/>
<path d="M189.0,401.50 L190.0,401.38 L191.0,401.22 L192.0,401.04 L193.0,400.83 L194.0,400.60 L195.0,400.34 L196.0,400.03 L197.0,399.68 L198.0,399.31 L199.0,398.91 L200.0,398.50 L201.0,398.06 L202.0,397.58 L203.0,397.07 L204.0,396.54 L205.0,396.01 L206.0,395.48 L207.0,394.90 L208.0,394.32 L209.0,393.77 L210.0,393.30 L211.0,392.88 L212.0,392.49 L213.0,392.19 L214.0,392.03 L215.0,391.90 L216.0,391.82 L217.0,391.80 L218.0,391.86 L219.0,391.97 L220.0,392.10 L221.0,392.30 L222.0,392.61 L223.0,392.96 L224.0,393.30 L225.0,393.65 L226.0,394.02 L227.0,394.38 L228.0,394.70 L229.0,395.00 L230.0,395.28 L231.0,395.53 L232.0,395.70 L233.0,395.83 L234.0,395.94 L235.0,396.05 L236.0,396.13 L237.0,396.18 L238.0,396.20 L239.0,396.18 L240.0,396.11 L241.0,396.01 L242.0,395.88 L243.0,395.74 L244.0,395.58 L245.0,395.42 L246.0,395.27 L247.0,395.14 L248.0,395.03 L249.0,394.95 L250.0,394.90 L251.0,394.90 L252.0,394.91 L253.0,394.93 L254.0,394.96 L255.0,395.00 L256.0,395.04 L257.0,395.08 L258.0,395.12 L259.0,395.16 L260.0,395.20 L261.0,395.23 L262.0,395.26 L263.0,395.28 L264.0,395.30 L265.0,395.30 L266.0,395.28 L267.0,395.24 L268.0,395.19 L269.0,395.12 L270.0,395.03 L271.0,394.94 L272.0,394.83 L273.0,394.72 L274.0,394.60 L275.0,394.48 L276.0,394.36 L277.0,394.24 L278.0,394.12 L279.0,394.01 L280.0,393.90 L281.0,393.79 L282.0,393.67 L283.0,393.54 L284.0,393.40 L285.0,393.25 L286.0,393.10 L287.0,392.94 L288.0,392.79 L289.0,392.63 L290.0,392.48 L291.0,392.33 L292.0,392.19 L293.0,392.05 L294.0,391.93 L295.0,391.82 L296.0,391.72 L297.0,391.64 L298.0,391.57 L299.0,391.53 L300.0,391.50 L301.0,391.50 L302.0,391.54 L303.0,391.60 L304.0,391.70 L305.0,391.81 L306.0,391.93 L307.0,392.07 L308.0,392.21 L309.0,392.35 L310.0,392.48 L311.0,392.61 L312.0,392.71 L313.0,392.80 L314.0,392.87 L315.0,392.90 L316.0,392.92 L317.0,392.93 L318.0,392.95 L319.0,392.96 L320.0,392.97 L321.0,392.98 L322.0,393.00 L323.0,393.01 L324.0,393.02 L325.0,393.03 L326.0,393.04 L327.0,393.05 L328.0,393.05 L329.0,393.06 L330.0,393.07 L331.0,393.07 L332.0,393.08 L333.0,393.08 L334.0,393.09 L335.0,393.09 L336.0,393.09 L337.0,393.10 L338.0,393.10 L339.0,393.10 L340.0,393.10 L341.0,393.10 L342.0,393.10 L343.0,393.10 L344.0,393.10 L345.0,393.10 L346.0,393.10 L347.0,393.10 L348.0,393.10 L349.0,393.10 L350.0,393.10 L351.0,393.10 L352.0,393.10 L353.0,393.10 L354.0,393.10 L355.0,393.10 L356.0,393.10 L357.0,393.10 L358.0,393.10 L359.0,393.10 L360.0,393.10 L361.0,393.10 L362.0,393.10 L363.0,393.10 L364.0,393.10 L365.0,393.10 L366.0,393.12 L367.0,393.17 L368.0,393.25 L369.0,393.35 L370.0,393.47 L371.0,393.61 L372.0,393.76 L373.0,393.91 L374.0,394.06 L375.0,394.20 L376.0,394.35 L377.0,394.51 L378.0,394.69 L379.0,394.88 L380.0,395.08 L381.0,395.29 L382.0,395.50 L383.0,395.72 L384.0,395.95 L385.0,396.18 L386.0,396.41 L387.0,396.64 L388.0,396.86 L389.0,397.08 L390.0,397.30 L391.0,397.52 L392.0,397.74 L393.0,397.96 L394.0,398.19 L395.0,398.41 L396.0,398.64 L397.0,398.86 L398.0,399.08 L399.0,399.29 L400.0,399.50 L401.0,399.70 L402.0,399.90 L403.0,400.10 L404.0,400.30 L405.0,400.49 L406.0,400.68 L407.0,400.87 L408.0,401.05 L409.0,401.23 L410.0,401.41 L410.5,401.50 L410.5,401.50 L410.0,401.59 L409.0,401.77 L408.0,401.95 L407.0,402.13 L406.0,402.32 L405.0,402.51 L404.0,402.70 L403.0,402.90 L402.0,403.10 L401.0,403.30 L400.0,403.50 L399.0,403.71 L398.0,403.92 L397.0,404.14 L396.0,404.36 L395.0,404.59 L394.0,404.81 L393.0,405.04 L392.0,405.26 L391.0,405.48 L390.0,405.70 L389.0,405.92 L388.0,406.14 L387.0,406.36 L386.0,406.59 L385.0,406.82 L384.0,407.05 L383.0,407.28 L382.0,407.50 L381.0,407.71 L380.0,407.92 L379.0,408.12 L378.0,408.31 L377.0,408.49 L376.0,408.65 L375.0,408.80 L374.0,408.94 L373.0,409.09 L372.0,409.24 L371.0,409.39 L370.0,409.53 L369.0,409.65 L368.0,409.75 L367.0,409.83 L366.0,409.88 L365.0,409.90 L364.0,409.90 L363.0,409.90 L362.0,409.90 L361.0,409.90 L360.0,409.90 L359.0,409.90 L358.0,409.90 L357.0,409.90 L356.0,409.90 L355.0,409.90 L354.0,409.90 L353.0,409.90 L352.0,409.90 L351.0,409.90 L350.0,409.90 L349.0,409.90 L348.0,409.90 L347.0,409.90 L346.0,409.90 L345.0,409.90 L344.0,409.90 L343.0,409.90 L342.0,409.90 L341.0,409.90 L340.0,409.90 L339.0,409.90 L338.0,409.90 L337.0,409.90 L336.0,409.91 L335.0,409.91 L334.0,409.91 L333.0,409.92 L332.0,409.92 L331.0,409.93 L330.0,409.93 L329.0,409.94 L328.0,409.95 L327.0,409.95 L326.0,409.96 L325.0,409.97 L324.0,409.98 L323.0,409.99 L322.0,410.00 L321.0,410.02 L320.0,410.03 L319.0,410.04 L318.0,410.05 L317.0,410.07 L316.0,410.08 L315.0,410.10 L314.0,410.13 L313.0,410.20 L312.0,410.29 L311.0,410.39 L310.0,410.52 L309.0,410.65 L308.0,410.79 L307.0,410.93 L306.0,411.07 L305.0,411.19 L304.0,411.30 L303.0,411.40 L302.0,411.46 L301.0,411.50 L300.0,411.50 L299.0,411.47 L298.0,411.43 L297.0,411.36 L296.0,411.28 L295.0,411.18 L294.0,411.07 L293.0,410.95 L292.0,410.81 L291.0,410.67 L290.0,410.52 L289.0,410.37 L288.0,410.21 L287.0,410.06 L286.0,409.90 L285.0,409.75 L284.0,409.60 L283.0,409.46 L282.0,409.33 L281.0,409.21 L280.0,409.10 L279.0,408.99 L278.0,408.88 L277.0,408.76 L276.0,408.64 L275.0,408.52 L274.0,408.40 L273.0,408.28 L272.0,408.17 L271.0,408.06 L270.0,407.97 L269.0,407.88 L268.0,407.81 L267.0,407.76 L266.0,407.72 L265.0,407.70 L264.0,407.70 L263.0,407.72 L262.0,407.74 L261.0,407.77 L260.0,407.80 L259.0,407.84 L258.0,407.88 L257.0,407.92 L256.0,407.96 L255.0,408.00 L254.0,408.04 L253.0,408.07 L252.0,408.09 L251.0,408.10 L250.0,408.10 L249.0,408.05 L248.0,407.97 L247.0,407.86 L246.0,407.73 L245.0,407.58 L244.0,407.42 L243.0,407.26 L242.0,407.12 L241.0,406.99 L240.0,406.89 L239.0,406.82 L238.0,406.80 L237.0,406.82 L236.0,406.87 L235.0,406.95 L234.0,407.06 L233.0,407.17 L232.0,407.30 L231.0,407.47 L230.0,407.72 L229.0,408.00 L228.0,408.30 L227.0,408.62 L226.0,408.98 L225.0,409.35 L224.0,409.70 L223.0,410.04 L222.0,410.39 L221.0,410.70 L220.0,410.90 L219.0,411.03 L218.0,411.14 L217.0,411.20 L216.0,411.18 L215.0,411.10 L214.0,410.97 L213.0,410.81 L212.0,410.51 L211.0,410.12 L210.0,409.70 L209.0,409.23 L208.0,408.68 L207.0,408.10 L206.0,407.52 L205.0,406.99 L204.0,406.46 L203.0,405.93 L202.0,405.42 L201.0,404.94 L200.0,404.50 L199.0,404.09 L198.0,403.69 L197.0,403.32 L196.0,402.97 L195.0,402.66 L194.0,402.40 L193.0,402.17 L192.0,401.96 L191.0,401.78 L190.0,401.62 L189.0,401.50Z" fill="rgba(228,146,40,0.5)"/>
<path d="M100.0,441.15 L101.0,440.71 L102.0,440.45 L103.0,440.43 L104.0,440.41 L105.0,440.39 L106.0,440.38 L107.0,440.36 L108.0,440.35 L109.0,440.34 L110.0,440.33 L111.0,440.33 L112.0,440.32 L113.0,440.31 L114.0,440.31 L115.0,440.31 L116.0,440.30 L117.0,440.30 L118.0,440.30 L119.0,440.30 L120.0,440.30 L121.0,440.30 L122.0,440.30 L123.0,440.30 L124.0,440.31 L125.0,440.31 L126.0,440.31 L127.0,440.31 L128.0,440.32 L129.0,440.32 L130.0,440.32 L131.0,440.33 L132.0,440.33 L133.0,440.34 L134.0,440.34 L135.0,440.34 L136.0,440.34 L137.0,440.35 L138.0,440.35 L139.0,440.35 L140.0,440.35 L141.0,440.35 L142.0,440.35 L143.0,440.35 L144.0,440.34 L145.0,440.34 L146.0,440.34 L147.0,440.33 L148.0,440.33 L149.0,440.32 L150.0,440.31 L151.0,440.31 L152.0,440.30 L153.0,440.30 L154.0,440.29 L155.0,440.28 L156.0,440.28 L157.0,440.27 L158.0,440.26 L159.0,440.26 L160.0,440.25 L161.0,440.24 L162.0,440.24 L163.0,440.23 L164.0,440.23 L165.0,440.23 L166.0,440.22 L167.0,440.22 L168.0,440.21 L169.0,440.21 L170.0,440.20 L171.0,440.19 L172.0,440.18 L173.0,440.17 L174.0,440.16 L175.0,440.15 L176.0,440.13 L177.0,440.08 L178.0,440.03 L179.0,439.96 L180.0,439.89 L181.0,439.82 L182.0,439.75 L183.0,439.68 L184.0,439.59 L185.0,439.50 L186.0,439.40 L187.0,439.31 L188.0,439.24 L189.0,439.18 L190.0,439.15 L191.0,439.16 L192.0,439.19 L193.0,439.24 L194.0,439.32 L195.0,439.40 L196.0,439.49 L197.0,439.58 L198.0,439.67 L199.0,439.75 L200.0,439.82 L201.0,439.90 L202.0,439.97 L203.0,440.05 L204.0,440.12 L205.0,440.19 L206.0,440.25 L207.0,440.31 L208.0,440.38 L209.0,440.44 L210.0,440.50 L211.0,440.54 L212.0,440.55 L213.0,440.52 L214.0,440.45 L215.0,440.33 L216.0,440.19 L217.0,440.03 L218.0,439.86 L219.0,439.70 L220.0,439.55 L221.0,439.40 L222.0,439.25 L223.0,439.08 L224.0,438.90 L225.0,438.73 L226.0,438.55 L227.0,438.38 L228.0,438.23 L229.0,438.08 L230.0,437.95 L231.0,437.85 L232.0,437.76 L233.0,437.69 L234.0,437.63 L235.0,437.57 L236.0,437.52 L237.0,437.48 L238.0,437.43 L239.0,437.38 L240.0,437.33 L241.0,437.28 L242.0,437.21 L243.0,437.14 L244.0,437.05 L245.0,436.95 L246.0,436.79 L247.0,436.56 L248.0,436.25 L249.0,435.90 L250.0,435.51 L251.0,435.10 L252.0,434.69 L253.0,434.30 L254.0,433.93 L255.0,433.61 L256.0,433.35 L257.0,433.12 L258.0,432.89 L259.0,432.65 L260.0,432.42 L261.0,432.20 L262.0,431.99 L263.0,431.80 L264.0,431.63 L265.0,431.49 L266.0,431.37 L267.0,431.29 L268.0,431.25 L269.0,431.26 L270.0,431.34 L271.0,431.46 L272.0,431.64 L273.0,431.84 L274.0,432.07 L275.0,432.32 L276.0,432.56 L277.0,432.80 L278.0,433.01 L279.0,433.20 L280.0,433.35 L281.0,433.48 L282.0,433.61 L283.0,433.74 L284.0,433.86 L285.0,433.98 L286.0,434.08 L287.0,434.16 L288.0,434.22 L289.0,434.25 L290.0,434.25 L291.0,434.23 L292.0,434.20 L293.0,434.15 L294.0,434.10 L295.0,434.04 L296.0,433.98 L297.0,433.91 L298.0,433.85 L299.0,433.79 L300.0,433.74 L301.0,433.70 L302.0,433.67 L303.0,433.65 L304.0,433.66 L305.0,433.73 L306.0,433.86 L307.0,434.03 L308.0,434.23 L309.0,434.46 L310.0,434.70 L311.0,434.95 L312.0,435.20 L313.0,435.44 L314.0,435.65 L315.0,435.86 L316.0,436.08 L317.0,436.31 L318.0,436.55 L319.0,436.78 L320.0,437.01 L321.0,437.23 L322.0,437.44 L323.0,437.62 L324.0,437.78 L325.0,437.91 L326.0,438.03 L327.0,438.15 L328.0,438.25 L329.0,438.35 L330.0,438.45 L331.0,438.54 L332.0,438.62 L333.0,438.70 L334.0,438.78 L335.0,438.86 L336.0,438.94 L337.0,439.01 L338.0,439.09 L339.0,439.17 L340.0,439.25 L341.0,439.33 L342.0,439.41 L343.0,439.48 L344.0,439.56 L345.0,439.63 L346.0,439.70 L347.0,439.78 L348.0,439.85 L349.0,439.92 L350.0,440.00 L351.0,440.07 L352.0,440.15 L353.0,440.23 L354.0,440.31 L355.0,440.39 L356.0,440.47 L357.0,440.55 L358.0,440.64 L359.0,440.72 L360.0,440.81 L361.0,440.89 L362.0,440.98 L363.0,441.06 L364.0,441.15 L364.0,441.15 L363.0,441.24 L362.0,441.32 L361.0,441.41 L360.0,441.49 L359.0,441.58 L358.0,441.66 L357.0,441.75 L356.0,441.83 L355.0,441.91 L354.0,441.99 L353.0,442.07 L352.0,442.15 L351.0,442.23 L350.0,442.30 L349.0,442.38 L348.0,442.45 L347.0,442.52 L346.0,442.60 L345.0,442.67 L344.0,442.74 L343.0,442.82 L342.0,442.89 L341.0,442.97 L340.0,443.05 L339.0,443.13 L338.0,443.21 L337.0,443.29 L336.0,443.36 L335.0,443.44 L334.0,443.52 L333.0,443.60 L332.0,443.68 L331.0,443.76 L330.0,443.85 L329.0,443.95 L328.0,444.05 L327.0,444.15 L326.0,444.27 L325.0,444.39 L324.0,444.52 L323.0,444.68 L322.0,444.86 L321.0,445.07 L320.0,445.29 L319.0,445.52 L318.0,445.75 L317.0,445.99 L316.0,446.22 L315.0,446.44 L314.0,446.65 L313.0,446.86 L312.0,447.10 L311.0,447.35 L310.0,447.60 L309.0,447.84 L308.0,448.07 L307.0,448.27 L306.0,448.44 L305.0,448.57 L304.0,448.64 L303.0,448.65 L302.0,448.63 L301.0,448.60 L300.0,448.56 L299.0,448.51 L298.0,448.45 L297.0,448.39 L296.0,448.32 L295.0,448.26 L294.0,448.20 L293.0,448.15 L292.0,448.10 L291.0,448.07 L290.0,448.05 L289.0,448.05 L288.0,448.08 L287.0,448.14 L286.0,448.22 L285.0,448.32 L284.0,448.44 L283.0,448.56 L282.0,448.69 L281.0,448.82 L280.0,448.95 L279.0,449.10 L278.0,449.29 L277.0,449.50 L276.0,449.74 L275.0,449.98 L274.0,450.23 L273.0,450.46 L272.0,450.66 L271.0,450.84 L270.0,450.96 L269.0,451.04 L268.0,451.05 L267.0,451.01 L266.0,450.93 L265.0,450.81 L264.0,450.67 L263.0,450.50 L262.0,450.31 L261.0,450.10 L260.0,449.88 L259.0,449.65 L258.0,449.41 L257.0,449.18 L256.0,448.95 L255.0,448.69 L254.0,448.37 L253.0,448.00 L252.0,447.61 L251.0,447.20 L250.0,446.79 L249.0,446.40 L248.0,446.05 L247.0,445.74 L246.0,445.51 L245.0,445.35 L244.0,445.25 L243.0,445.16 L242.0,445.09 L241.0,445.02 L240.0,444.97 L239.0,444.92 L238.0,444.87 L237.0,444.82 L236.0,444.78 L235.0,444.73 L234.0,444.67 L233.0,444.61 L232.0,444.54 L231.0,444.45 L230.0,444.35 L229.0,444.22 L228.0,444.07 L227.0,443.92 L226.0,443.75 L225.0,443.57 L224.0,443.40 L223.0,443.22 L222.0,443.05 L221.0,442.90 L220.0,442.75 L219.0,442.60 L218.0,442.44 L217.0,442.27 L216.0,442.11 L215.0,441.97 L214.0,441.85 L213.0,441.78 L212.0,441.75 L211.0,441.76 L210.0,441.80 L209.0,441.86 L208.0,441.92 L207.0,441.99 L206.0,442.05 L205.0,442.11 L204.0,442.18 L203.0,442.25 L202.0,442.33 L201.0,442.40 L200.0,442.48 L199.0,442.55 L198.0,442.63 L197.0,442.72 L196.0,442.81 L195.0,442.90 L194.0,442.98 L193.0,443.06 L192.0,443.11 L191.0,443.14 L190.0,443.15 L189.0,443.12 L188.0,443.06 L187.0,442.99 L186.0,442.90 L185.0,442.80 L184.0,442.71 L183.0,442.62 L182.0,442.55 L181.0,442.48 L180.0,442.41 L179.0,442.34 L178.0,442.27 L177.0,442.22 L176.0,442.17 L175.0,442.15 L174.0,442.14 L173.0,442.13 L172.0,442.12 L171.0,442.11 L170.0,442.10 L169.0,442.09 L168.0,442.09 L167.0,442.08 L166.0,442.08 L165.0,442.07 L164.0,442.07 L163.0,442.07 L162.0,442.06 L161.0,442.06 L160.0,442.05 L159.0,442.04 L158.0,442.04 L157.0,442.03 L156.0,442.02 L155.0,442.02 L154.0,442.01 L153.0,442.00 L152.0,442.00 L151.0,441.99 L150.0,441.99 L149.0,441.98 L148.0,441.97 L147.0,441.97 L146.0,441.96 L145.0,441.96 L144.0,441.96 L143.0,441.95 L142.0,441.95 L141.0,441.95 L140.0,441.95 L139.0,441.95 L138.0,441.95 L137.0,441.95 L136.0,441.96 L135.0,441.96 L134.0,441.96 L133.0,441.96 L132.0,441.97 L131.0,441.97 L130.0,441.97 L129.0,441.98 L128.0,441.98 L127.0,441.99 L126.0,441.99 L125.0,441.99 L124.0,441.99 L123.0,442.00 L122.0,442.00 L121.0,442.00 L120.0,442.00 L119.0,442.00 L118.0,442.00 L117.0,442.00 L116.0,442.00 L115.0,441.99 L114.0,441.99 L113.0,441.99 L112.0,441.98 L111.0,441.97 L110.0,441.97 L109.0,441.96 L108.0,441.95 L107.0,441.94 L106.0,441.92 L105.0,441.91 L104.0,441.89 L103.0,441.87 L102.0,441.85 L101.0,441.59 L100.0,441.15Z" fill="#969696"/>
<path d="M168.0,481.00 L169.0,480.57 L170.0,480.30 L171.0,480.24 L172.0,480.20 L173.0,480.16 L174.0,480.14 L175.0,480.12 L176.0,480.10 L177.0,480.09 L178.0,480.07 L179.0,480.04 L180.0,480.00 L181.0,479.95 L182.0,479.88 L183.0,479.81 L184.0,479.72 L185.0,479.63 L186.0,479.53 L187.0,479.43 L188.0,479.34 L189.0,479.24 L190.0,479.15 L191.0,479.07 L192.0,479.00 L193.0,478.93 L194.0,478.86 L195.0,478.79 L196.0,478.72 L197.0,478.65 L198.0,478.58 L199.0,478.51 L200.0,478.44 L201.0,478.38 L202.0,478.32 L203.0,478.27 L204.0,478.22 L205.0,478.18 L206.0,478.15 L207.0,478.12 L208.0,478.11 L209.0,478.10 L210.0,478.11 L211.0,478.13 L212.0,478.17 L213.0,478.21 L214.0,478.27 L215.0,478.34 L216.0,478.41 L217.0,478.49 L218.0,478.58 L219.0,478.67 L220.0,478.76 L221.0,478.85 L222.0,478.93 L223.0,479.02 L224.0,479.10 L225.0,479.19 L226.0,479.29 L227.0,479.41 L228.0,479.53 L229.0,479.65 L230.0,479.77 L231.0,479.88 L232.0,479.97 L233.0,480.04 L234.0,480.09 L235.0,480.10 L236.0,480.11 L237.0,480.12 L238.0,480.13 L239.0,480.13 L240.0,480.14 L241.0,480.15 L242.0,480.15 L243.0,480.16 L244.0,480.16 L245.0,480.17 L246.0,480.17 L247.0,480.18 L248.0,480.18 L249.0,480.18 L250.0,480.19 L251.0,480.19 L252.0,480.19 L253.0,480.19 L254.0,480.20 L255.0,480.20 L256.0,480.20 L257.0,480.20 L258.0,480.20 L259.0,480.20 L260.0,480.20 L261.0,480.20 L262.0,480.20 L263.0,480.20 L264.0,480.20 L265.0,480.20 L266.0,480.19 L267.0,480.19 L268.0,480.19 L269.0,480.18 L270.0,480.18 L271.0,480.18 L272.0,480.17 L273.0,480.17 L274.0,480.16 L275.0,480.15 L276.0,480.15 L277.0,480.14 L278.0,480.13 L279.0,480.12 L280.0,480.11 L281.0,480.11 L282.0,480.09 L283.0,480.06 L284.0,480.01 L285.0,479.94 L286.0,479.87 L287.0,479.79 L288.0,479.70 L289.0,479.60 L290.0,479.48 L291.0,479.34 L292.0,479.18 L293.0,479.02 L294.0,478.86 L295.0,478.70 L296.0,478.54 L297.0,478.39 L298.0,478.22 L299.0,478.06 L300.0,477.89 L301.0,477.72 L302.0,477.55 L303.0,477.38 L304.0,477.20 L305.0,477.03 L306.0,476.85 L307.0,476.67 L308.0,476.48 L309.0,476.30 L310.0,476.11 L311.0,475.91 L312.0,475.71 L313.0,475.50 L314.0,475.28 L315.0,475.07 L316.0,474.85 L317.0,474.63 L318.0,474.42 L319.0,474.21 L320.0,474.00 L321.0,473.80 L322.0,473.61 L323.0,473.43 L324.0,473.26 L325.0,473.10 L326.0,472.95 L327.0,472.79 L328.0,472.63 L329.0,472.47 L330.0,472.32 L331.0,472.17 L332.0,472.03 L333.0,471.90 L334.0,471.79 L335.0,471.69 L336.0,471.60 L337.0,471.54 L338.0,471.50 L339.0,471.47 L340.0,471.45 L341.0,471.42 L342.0,471.40 L343.0,471.37 L344.0,471.35 L345.0,471.33 L346.0,471.31 L347.0,471.30 L348.0,471.28 L349.0,471.26 L350.0,471.25 L351.0,471.24 L352.0,471.23 L353.0,471.22 L354.0,471.21 L355.0,471.21 L356.0,471.20 L357.0,471.20 L358.0,471.20 L359.0,471.20 L360.0,471.20 L361.0,471.20 L362.0,471.21 L363.0,471.21 L364.0,471.22 L365.0,471.22 L366.0,471.23 L367.0,471.24 L368.0,471.24 L369.0,471.25 L370.0,471.26 L371.0,471.28 L372.0,471.29 L373.0,471.30 L374.0,471.32 L375.0,471.33 L376.0,471.35 L377.0,471.36 L378.0,471.38 L379.0,471.40 L380.0,471.43 L381.0,471.49 L382.0,471.57 L383.0,471.67 L384.0,471.78 L385.0,471.90 L386.0,472.04 L387.0,472.18 L388.0,472.32 L389.0,472.46 L390.0,472.60 L391.0,472.74 L392.0,472.90 L393.0,473.08 L394.0,473.26 L395.0,473.45 L396.0,473.64 L397.0,473.83 L398.0,474.02 L399.0,474.20 L400.0,474.38 L401.0,474.56 L402.0,474.75 L403.0,474.93 L404.0,475.12 L405.0,475.30 L406.0,475.48 L407.0,475.67 L408.0,475.85 L409.0,476.02 L410.0,476.20 L411.0,476.38 L412.0,476.56 L413.0,476.74 L414.0,476.92 L415.0,477.10 L416.0,477.27 L417.0,477.43 L418.0,477.57 L419.0,477.70 L420.0,477.81 L421.0,477.92 L422.0,478.02 L423.0,478.12 L424.0,478.21 L425.0,478.29 L426.0,478.38 L427.0,478.46 L428.0,478.54 L429.0,478.62 L430.0,478.70 L431.0,478.78 L432.0,478.86 L433.0,478.95 L434.0,479.03 L435.0,479.11 L436.0,479.18 L437.0,479.26 L438.0,479.33 L439.0,479.40 L440.0,479.47 L441.0,479.54 L442.0,479.60 L443.0,479.66 L444.0,479.71 L445.0,479.77 L446.0,479.81 L447.0,479.86 L448.0,479.91 L449.0,479.96 L450.0,480.00 L451.0,480.05 L452.0,480.10 L453.0,480.15 L454.0,480.20 L455.0,480.25 L456.0,480.31 L457.0,480.36 L458.0,480.42 L459.0,480.47 L460.0,480.53 L461.0,480.59 L462.0,480.64 L463.0,480.70 L464.0,480.76 L465.0,480.82 L466.0,480.88 L467.0,480.94 L468.0,481.00 L468.0,481.00 L467.0,481.06 L466.0,481.12 L465.0,481.18 L464.0,481.24 L463.0,481.30 L462.0,481.36 L461.0,481.41 L460.0,481.47 L459.0,481.53 L458.0,481.58 L457.0,481.64 L456.0,481.69 L455.0,481.75 L454.0,481.80 L453.0,481.85 L452.0,481.90 L451.0,481.95 L450.0,482.00 L449.0,482.04 L448.0,482.09 L447.0,482.14 L446.0,482.19 L445.0,482.23 L444.0,482.29 L443.0,482.34 L442.0,482.40 L441.0,482.46 L440.0,482.53 L439.0,482.60 L438.0,482.67 L437.0,482.74 L436.0,482.82 L435.0,482.89 L434.0,482.97 L433.0,483.05 L432.0,483.14 L431.0,483.22 L430.0,483.30 L429.0,483.38 L428.0,483.46 L427.0,483.54 L426.0,483.62 L425.0,483.71 L424.0,483.79 L423.0,483.88 L422.0,483.98 L421.0,484.08 L420.0,484.19 L419.0,484.30 L418.0,484.43 L417.0,484.57 L416.0,484.73 L415.0,484.90 L414.0,485.08 L413.0,485.26 L412.0,485.44 L411.0,485.62 L410.0,485.80 L409.0,485.98 L408.0,486.15 L407.0,486.33 L406.0,486.52 L405.0,486.70 L404.0,486.88 L403.0,487.07 L402.0,487.25 L401.0,487.44 L400.0,487.62 L399.0,487.80 L398.0,487.98 L397.0,488.17 L396.0,488.36 L395.0,488.55 L394.0,488.74 L393.0,488.92 L392.0,489.10 L391.0,489.26 L390.0,489.40 L389.0,489.54 L388.0,489.68 L387.0,489.82 L386.0,489.96 L385.0,490.10 L384.0,490.22 L383.0,490.33 L382.0,490.43 L381.0,490.51 L380.0,490.57 L379.0,490.60 L378.0,490.62 L377.0,490.64 L376.0,490.65 L375.0,490.67 L374.0,490.68 L373.0,490.70 L372.0,490.71 L371.0,490.72 L370.0,490.74 L369.0,490.75 L368.0,490.76 L367.0,490.76 L366.0,490.77 L365.0,490.78 L364.0,490.78 L363.0,490.79 L362.0,490.79 L361.0,490.80 L360.0,490.80 L359.0,490.80 L358.0,490.80 L357.0,490.80 L356.0,490.80 L355.0,490.79 L354.0,490.79 L353.0,490.78 L352.0,490.77 L351.0,490.76 L350.0,490.75 L349.0,490.74 L348.0,490.72 L347.0,490.70 L346.0,490.69 L345.0,490.67 L344.0,490.65 L343.0,490.63 L342.0,490.60 L341.0,490.58 L340.0,490.55 L339.0,490.53 L338.0,490.50 L337.0,490.46 L336.0,490.40 L335.0,490.31 L334.0,490.21 L333.0,490.10 L332.0,489.97 L331.0,489.83 L330.0,489.68 L329.0,489.53 L328.0,489.37 L327.0,489.21 L326.0,489.05 L325.0,488.90 L324.0,488.74 L323.0,488.57 L322.0,488.39 L321.0,488.20 L320.0,488.00 L319.0,487.79 L318.0,487.58 L317.0,487.37 L316.0,487.15 L315.0,486.93 L314.0,486.72 L313.0,486.50 L312.0,486.29 L311.0,486.09 L310.0,485.89 L309.0,485.70 L308.0,485.52 L307.0,485.33 L306.0,485.15 L305.0,484.97 L304.0,484.80 L303.0,484.62 L302.0,484.45 L301.0,484.28 L300.0,484.11 L299.0,483.94 L298.0,483.78 L297.0,483.61 L296.0,483.46 L295.0,483.30 L294.0,483.14 L293.0,482.98 L292.0,482.82 L291.0,482.66 L290.0,482.52 L289.0,482.40 L288.0,482.30 L287.0,482.21 L286.0,482.13 L285.0,482.06 L284.0,481.99 L283.0,481.94 L282.0,481.91 L281.0,481.89 L280.0,481.89 L279.0,481.88 L278.0,481.87 L277.0,481.86 L276.0,481.85 L275.0,481.85 L274.0,481.84 L273.0,481.83 L272.0,481.83 L271.0,481.82 L270.0,481.82 L269.0,481.82 L268.0,481.81 L267.0,481.81 L266.0,481.81 L265.0,481.80 L264.0,481.80 L263.0,481.80 L262.0,481.80 L261.0,481.80 L260.0,481.80 L259.0,481.80 L258.0,481.80 L257.0,481.80 L256.0,481.80 L255.0,481.80 L254.0,481.80 L253.0,481.81 L252.0,481.81 L251.0,481.81 L250.0,481.81 L249.0,481.82 L248.0,481.82 L247.0,481.82 L246.0,481.83 L245.0,481.83 L244.0,481.84 L243.0,481.84 L242.0,481.85 L241.0,481.85 L240.0,481.86 L239.0,481.87 L238.0,481.87 L237.0,481.88 L236.0,481.89 L235.0,481.90 L234.0,481.91 L233.0,481.96 L232.0,482.03 L231.0,482.12 L230.0,482.23 L229.0,482.35 L228.0,482.47 L227.0,482.59 L226.0,482.71 L225.0,482.81 L224.0,482.90 L223.0,482.98 L222.0,483.07 L221.0,483.15 L220.0,483.24 L219.0,483.33 L218.0,483.42 L217.0,483.51 L216.0,483.59 L215.0,483.66 L214.0,483.73 L213.0,483.79 L212.0,483.83 L211.0,483.87 L210.0,483.89 L209.0,483.90 L208.0,483.89 L207.0,483.88 L206.0,483.85 L205.0,483.82 L204.0,483.78 L203.0,483.73 L202.0,483.68 L201.0,483.62 L200.0,483.56 L199.0,483.49 L198.0,483.42 L197.0,483.35 L196.0,483.28 L195.0,483.21 L194.0,483.14 L193.0,483.07 L192.0,483.00 L191.0,482.93 L190.0,482.85 L189.0,482.76 L188.0,482.66 L187.0,482.57 L186.0,482.47 L185.0,482.37 L184.0,482.28 L183.0,482.19 L182.0,482.12 L181.0,482.05 L180.0,482.00 L179.0,481.96 L178.0,481.93 L177.0,481.91 L176.0,481.90 L175.0,481.88 L174.0,481.86 L173.0,481.84 L172.0,481.80 L171.0,481.76 L170.0,481.70 L169.0,481.43 L168.0,481.00Z" fill="#c2c2c2"/>
<rect x="499" y="480.6" width="18" height="1.2" fill="#dedede"/><rect x="555" y="480.6" width="19" height="1.2" fill="#e2e2e2"/>
<path d="M48.7,39.9 L75.3,25.5 L67.7,36.5 L321.5,36.5 L321.5,43.95 L67.7,43.95 L76.4,56.2 Z" fill="#f1767b"/>
<path d="M636.5,42.2 L609.7,26 L617.6,38.6 L394.9,38.6 L394.9,45.9 L617.6,45.9 L609.2,58.2 Z" fill="#2b00ff"/>
<path d="M15.8,86.0 H298 M15.8,217.8 H298" stroke="#4a4a4a" stroke-width="1.8" stroke-dasharray="9.2 5.32" fill="none"/>
<rect x="15.95" y="2.1" width="658.65" height="518.8" fill="none" stroke="#000" stroke-width="2"/>
<path d="M110.0,509.3 V521" stroke="#000" stroke-width="1.8"/>
<path d="M204.1,509.3 V521" stroke="#000" stroke-width="1.8"/>
<path d="M298.2,509.3 V521" stroke="#000" stroke-width="1.8"/>
<path d="M392.3,509.3 V521" stroke="#000" stroke-width="1.8"/>
<path d="M486.4,509.3 V521" stroke="#000" stroke-width="1.8"/>
<path d="M580.5,509.3 V521" stroke="#000" stroke-width="1.8"/>
<text x="15.9" y="541.6" font-size="18" text-anchor="middle" fill="#000" stroke="#000" stroke-width="0.3">−15</text>
<text x="110.0" y="541.6" font-size="18" text-anchor="middle" fill="#000" stroke="#000" stroke-width="0.3">−10</text>
<text x="204.1" y="541.6" font-size="18" text-anchor="middle" fill="#000" stroke="#000" stroke-width="0.3">−5</text>
<text x="298.2" y="541.6" font-size="18" text-anchor="middle" fill="#000" stroke="#000" stroke-width="0.3">0</text>
<text x="392.3" y="541.6" font-size="18" text-anchor="middle" fill="#000" stroke="#000" stroke-width="0.3">5</text>
<text x="486.4" y="541.6" font-size="18" text-anchor="middle" fill="#000" stroke="#000" stroke-width="0.3">10</text>
<text x="580.5" y="541.6" font-size="18" text-anchor="middle" fill="#000" stroke="#000" stroke-width="0.3">15</text>
<text x="674.6" y="541.6" font-size="18" text-anchor="middle" fill="#000" stroke="#000" stroke-width="0.3">20</text>
<path d="M392,501.5 H459.5" stroke="#000" stroke-width="1.9"/>
<path d="M384.2,501.5 L398.3,493.4 L392.6,501.5 L398.3,509.6 Z" fill="#000"/>
<path d="M438,274.6 C441.5,274.3 443.4,276 443.4,281 L443.4,334.5 C443.4,338.4 444.2,340.2 445.8,340.7 C444.2,341.2 443.4,343 443.4,346.8 L443.4,401.5 C443.4,406.5 441.8,408.3 438,409" stroke="#f08c28" stroke-width="2.6" fill="none" stroke-linecap="round" stroke-linejoin="round"/>
<text x="153.9" y="21.1" font-size="18.18" fill="#000" text-anchor="start"  stroke="#000" stroke-width="0.3">Li isotopic variation in mantle due to metasomatism</text>
<text x="27.0" y="72.0" font-size="18.12" fill="#e8242a" text-anchor="start"  stroke="#e8242a" stroke-width="0.3">Incorporating crustal light <tspan font-size="14.5" dy="-7.9">6</tspan><tspan dy="7.9">Li</tspan></text>
<text x="395.3" y="74.0" font-size="18.1" fill="#2b00ff" text-anchor="start"  stroke="#2b00ff" stroke-width="0.3">Incorporating crustal heavy <tspan font-size="14.5" dy="-7.9">7</tspan><tspan dy="7.9">Li</tspan></text>
<text x="25.0" y="106.7" font-size="18.15" fill="#000" text-anchor="start"  stroke="#000" stroke-width="0.3">Monte-Carlo simulation</text>
<text x="25.0" y="128.3" font-size="18.15" fill="#000" text-anchor="start"  stroke="#000" stroke-width="0.3">for crustal recycling:</text>
<text x="21.3" y="237.2" font-size="18.12" fill="#000" text-anchor="start"  stroke="#000" stroke-width="0.3">Natural samples:</text>
<text x="646.0" y="130.0" font-size="18.12" fill="#000" text-anchor="end"  stroke="#000" stroke-width="0.3">AOC</text>
<text x="670.4" y="169.9" font-size="18.14" fill="#000" text-anchor="end"  stroke="#000" stroke-width="0.3">Continental sedimentary rocks</text>
<text x="645.0" y="209.9" font-size="18.12" fill="#000" text-anchor="end"  stroke="#000" stroke-width="0.3">Subducting sediments</text>
<text x="28.5" y="287.6" font-size="18.25" fill="#000" text-anchor="start"  stroke="#000" stroke-width="0.3">Ilímaussaq deposit (n = 14)</text>
<text x="23.0" y="315.2" font-size="18.25" fill="#000" text-anchor="start"  stroke="#000" stroke-width="0.3">Mianning-Dechang belt (n = 17)</text>
<text x="46.6" y="368.0" font-size="18.25" fill="#000" text-anchor="start"  stroke="#000" stroke-width="0.3">Saima deposit (n = 7)</text>
<text x="54.0" y="404.0" font-size="18.25" fill="#000" text-anchor="start"  stroke="#000" stroke-width="0.3">Luxi belt (n =18)</text>
<text x="584.0" y="444.0" font-size="18.25" fill="#000" text-anchor="end"  stroke="#000" stroke-width="0.3">Lamprophyres (n = 57)</text>
<text x="650.8" y="473.3" font-size="18.3" fill="#000" text-anchor="end"  stroke="#000" stroke-width="0.3">Arc lavas (n = 167)</text>
<text x="642.5" y="508.7" font-size="18.25" fill="#000" text-anchor="end"  stroke="#000" stroke-width="0.3">Mantle (+3.5 ± 1.0 ‰)</text>
<text x="456.5" y="337.2" font-size="18.12" fill="#f08c28" text-anchor="start"  stroke="#f08c28" stroke-width="0.3">Alkaline rocks with</text>
<text x="456.5" y="359.0" font-size="18.2" fill="#f08c28" text-anchor="start"  stroke="#f08c28" stroke-width="0.3">giant REE mineralization</text>
<text x="345.3" y="565.9" font-size="18.1" fill="#000" text-anchor="middle" font-weight="bold" stroke="#000" stroke-width="0.2">δ<tspan font-size="13.2" dy="-9">7</tspan><tspan dy="9">Li [‰]</tspan></text>
</svg>
</body></html>
